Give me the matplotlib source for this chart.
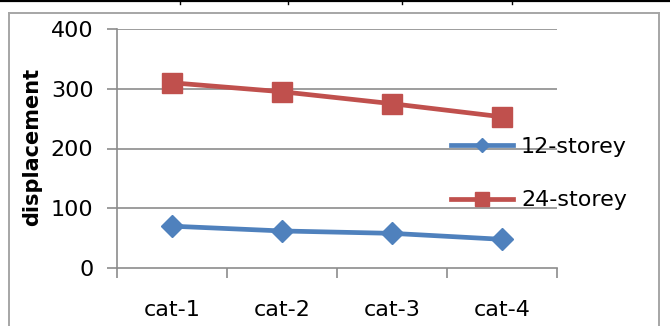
import matplotlib
matplotlib.use("Agg")
import matplotlib.pyplot as plt
from matplotlib.lines import Line2D

categories = ["cat-1", "cat-2", "cat-3", "cat-4"]
storey_12 = [70, 62, 58, 48]
storey_24 = [310, 295, 275, 253]
series_names = ["12-storey", "24-storey"]
y_ticks = [0, 100, 200, 300, 400]

W, H = 670, 326
fig = plt.figure(figsize=(W / 100, H / 100), dpi=100)
plt.rcParams["font.family"] = ["DejaVu Sans"]

# plot area in pixel coordinates
left, right, top, bottom = 117, 557, 29, 268
ax = fig.add_axes([left / W, (H - bottom) / H, (right - left) / W, (bottom - top) / H])

grid_c = "#8c8c8c"
blue = "#4F81BD"
red = "#C0504D"

x = list(range(len(categories)))
ax.plot(x, storey_12, color=blue, lw=3.4, marker="D", ms=11, mec=blue, mfc=blue,
        solid_joinstyle="round", zorder=3)
ax.plot(x, storey_24, color=red, lw=3.4, marker="s", ms=14, mec=red, mfc=red,
        solid_joinstyle="round", zorder=3)

ax.set_xlim(-0.5, len(categories) - 0.5)
ax.set_ylim(0, 400)
ax.set_yticks(y_ticks)
ax.set_yticklabels([str(v) for v in y_ticks], fontsize=16)
ax.set_xticks(x)
ax.set_xticklabels(categories, fontsize=16)
ax.set_xticks([i - 0.5 for i in range(len(categories) + 1)], minor=True)

ax.tick_params(axis="x", which="major", length=0, pad=23)
ax.tick_params(axis="x", which="minor", length=7, width=1.2, color=grid_c, direction="out")
ax.tick_params(axis="y", length=7, width=1.2, color=grid_c, direction="out", pad=10)

for v in y_ticks[1:]:
    ax.axhline(v, color=grid_c, lw=1.2, zorder=1)

for s in ["top", "right"]:
    ax.spines[s].set_visible(False)
for s in ["left", "bottom"]:
    ax.spines[s].set_color(grid_c)
    ax.spines[s].set_linewidth(1.2)

fig.text(32 / W, 1 - 147 / H, "displacement", rotation=90, fontsize=15,
         fontweight="bold", ha="center", va="center")

handles = [
    Line2D([], [], color=blue, lw=3.4, marker="D", ms=7.5, mec=blue, mfc=blue),
    Line2D([], [], color=red, lw=3.4, marker="s", ms=9.5, mec=red, mfc=red),
]
leg = fig.legend(handles, series_names, loc="upper left",
                 bbox_to_anchor=(451 / W, 1 - 137 / H), frameon=False,
                 fontsize=16, handlelength=2.8, handletextpad=0.35,
                 labelspacing=1.5, borderpad=0, borderaxespad=0)

# chart frame (left, top and right edges; bottom runs off the canvas)
frame_kw = dict(transform=fig.transFigure, color="#a6a6a6", lw=1.4)
fx0, fx1, fy = 8.5 / W, 658.5 / W, 1 - 12.5 / H
fig.add_artist(Line2D([fx0, fx0], [0, fy], **frame_kw))
fig.add_artist(Line2D([fx1, fx1], [0, fy], **frame_kw))
fig.add_artist(Line2D([fx0, fx1], [fy, fy], **frame_kw))

# table rule along the top
fig.add_artist(Line2D([0, 1], [1 - 1 / H, 1 - 1 / H], transform=fig.transFigure,
                      color="black", lw=1.6))
for px in [180, 288, 402, 512]:
    fig.add_artist(Line2D([px / W, px / W], [1, 1 - 4 / H], transform=fig.transFigure,
                          color="black", lw=1.0))

fig.savefig("out.png", dpi=100)
